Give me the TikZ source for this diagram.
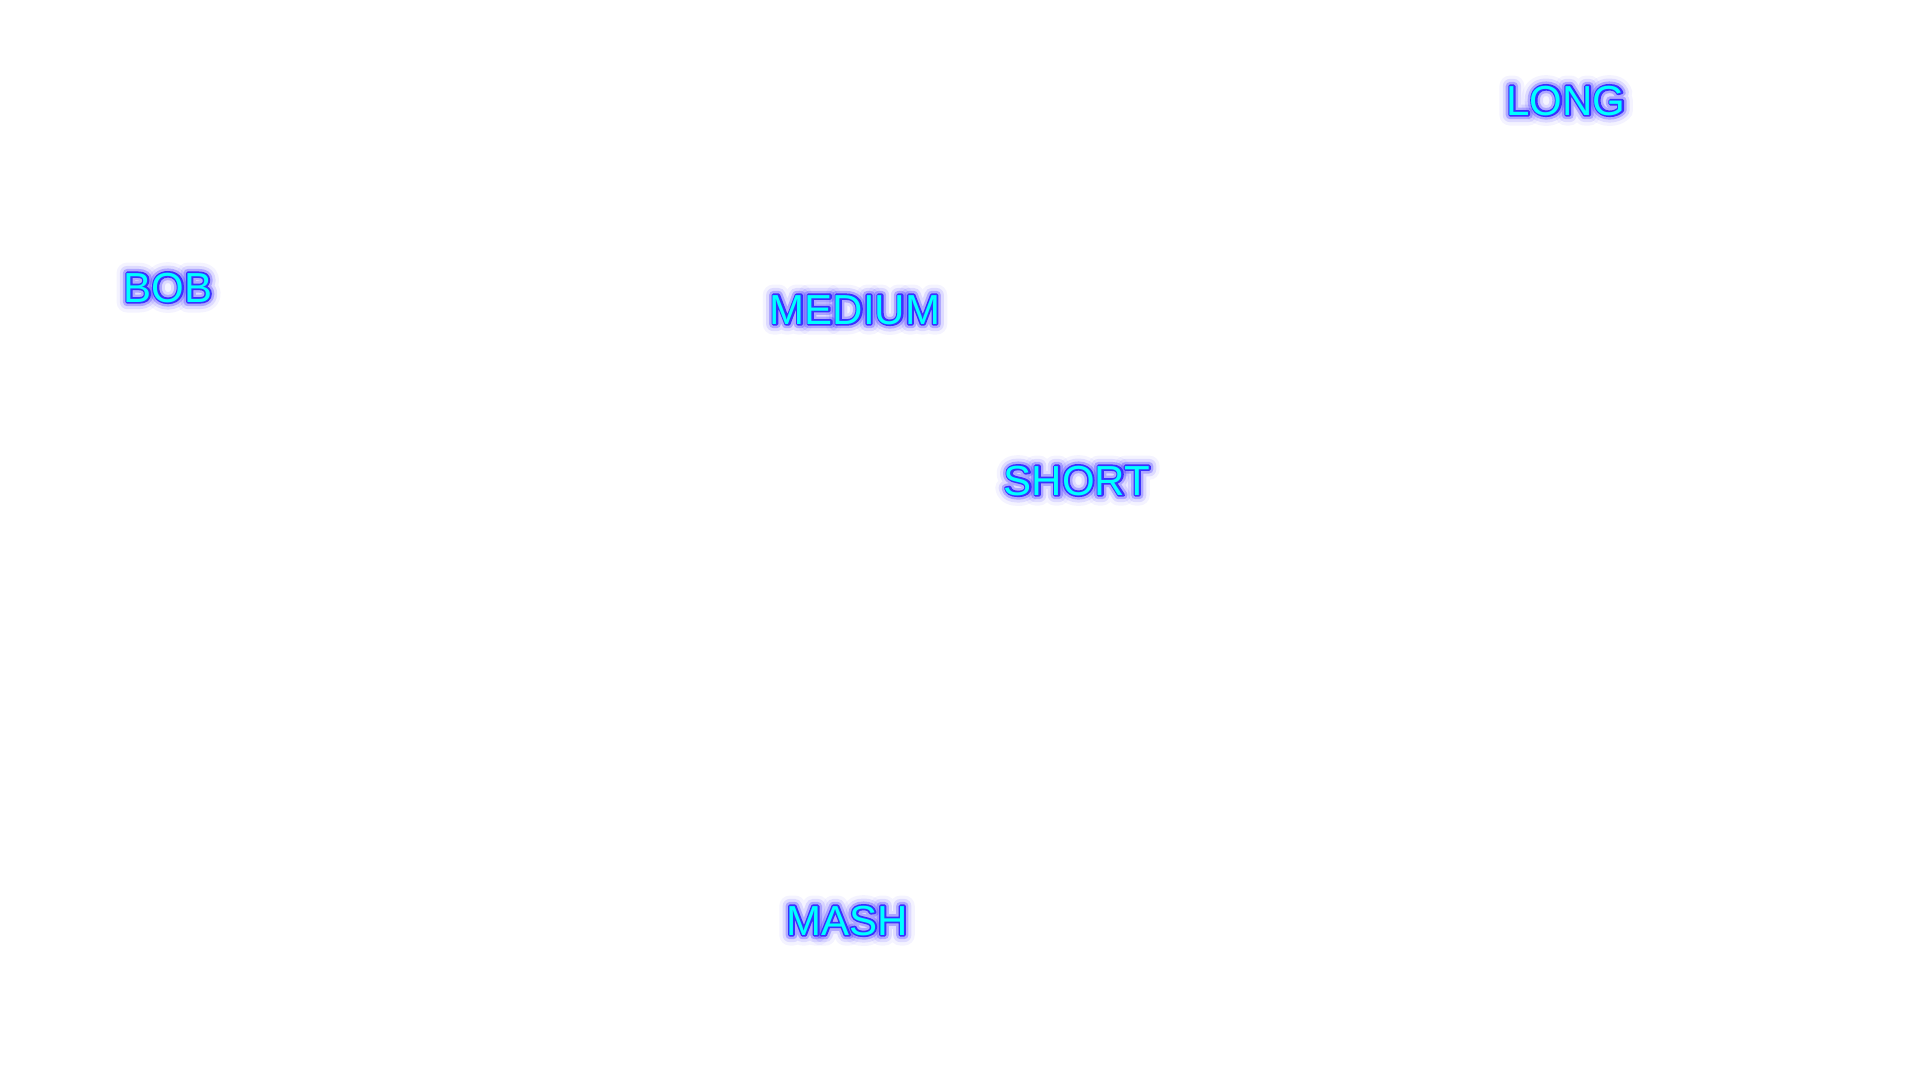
\documentclass[tikz,border=0pt]{standalone}
\usepackage{fontspec}
\setmainfont{Liberation Sans}
\newfontface\glowwide{Liberation Sans}[FakeBold=50]
\newfontface\glowmidf{Liberation Sans}[FakeBold=34]
\newfontface\glownear{Liberation Sans}[FakeBold=20]
\newfontface\edgeface{Liberation Sans}[FakeBold=8]
\newfontface\fillface{Liberation Sans}
\definecolor{glowout}{HTML}{9A90FF}
\definecolor{glowmid}{HTML}{6A5AFF}
\definecolor{glownr}{HTML}{4A3AFF}
\definecolor{edgeblue}{HTML}{3A30FF}
\definecolor{fillcyan}{HTML}{00FFFF}
\tikzset{
  lbl/.style={inner sep=0pt, anchor=base, line join=round},
  glowA/.style={lbl, font=\glowwide\fontsize{42}{42}\selectfont, text=glowout, opacity=0.10},
  glowB/.style={lbl, font=\glowmidf\fontsize{42}{42}\selectfont, text=glowmid, opacity=0.16},
  glowC/.style={lbl, font=\glownear\fontsize{42}{42}\selectfont, text=glownr, opacity=0.32},
  edgeL/.style={lbl, font=\edgeface\fontsize{42}{42}\selectfont, text=edgeblue},
  fillL/.style={lbl, font=\fillface\fontsize{42}{42}\selectfont, text=fillcyan},
}
\newcommand{\glowlabel}[4]{%
  \node[glowA] (#1-ga) at (#2,#3) {#4};
  \node[glowB] (#1-gb) at (#2,#3) {#4};
  \node[glowC] (#1-gc) at (#2,#3) {#4};
  \node[edgeL] (#1-e) at (#2,#3) {#4};
  \node[fillL] (#1) at (#2,#3) {#4};
}
\begin{document}
\begin{tikzpicture}[x=1pt,y=-1pt]
\fill[white] (0,0) rectangle (1920,1080);
\useasboundingbox (0,0) rectangle (1920,1080);
\glowlabel{bob}{168}{302}{BOB}
\glowlabel{medium}{855}{324}{MEDIUM}
\glowlabel{short}{1077}{495}{SHORT}
\glowlabel{long}{1566}{115}{LONG}
\glowlabel{mash}{847}{935}{MASH}
\end{tikzpicture}
\end{document}
